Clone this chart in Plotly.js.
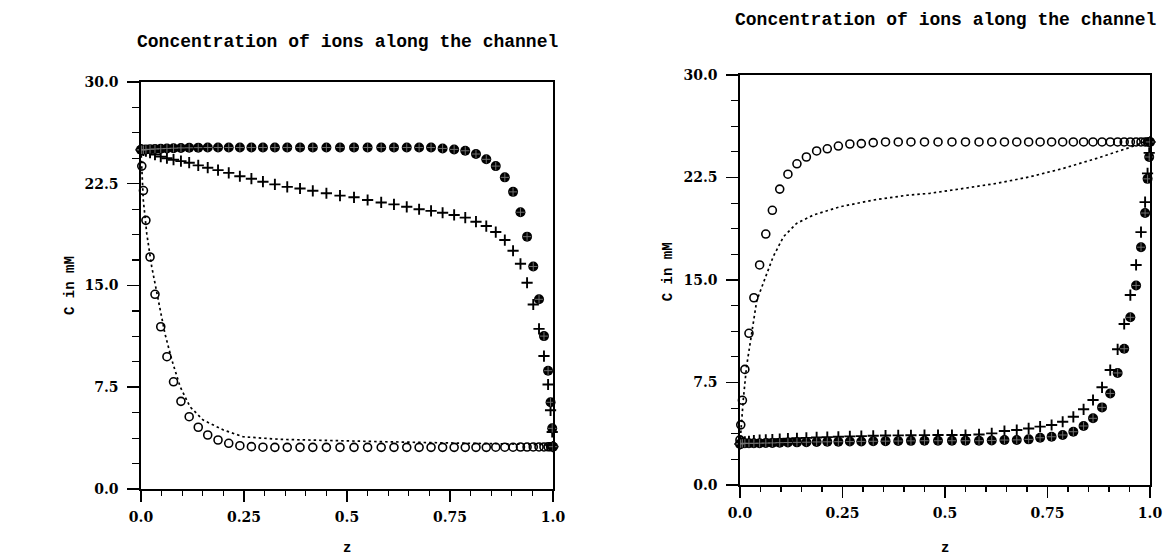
<!DOCTYPE html>
<html>
<head>
<meta charset="utf-8">
<script src="https://cdn.plot.ly/plotly-3.0.1.min.js"></script>
<style>html,body{margin:0;padding:0;background:#fff;}#chart{width:1166px;height:560px;}</style>
</head>
<body>
<div id="chart"></div>
<script>
// grid positions along the channel
var zGrid = [0, 0.002, 0.006, 0.012, 0.022, 0.034, 0.048, 0.063, 0.079, 0.097,
  0.117, 0.139, 0.162, 0.187, 0.213, 0.240, 0.268, 0.296, 0.325, 0.355,
  0.386, 0.417, 0.450, 0.483, 0.517, 0.550, 0.583, 0.614, 0.645, 0.675,
  0.704, 0.732, 0.760, 0.787, 0.813, 0.838, 0.861, 0.883, 0.903, 0.921,
  0.937, 0.952, 0.966, 0.978, 0.988, 0.994, 0.998, 1.000];

// LEFT panel
var leftOpen = [25.0, 23.8, 22.0, 19.8, 17.1, 14.35, 11.96, 9.75, 7.9, 6.46,
  5.33, 4.55, 3.98, 3.61, 3.37, 3.19, 3.12, 3.08, 3.07, 3.07,
  3.07, 3.07, 3.07, 3.07, 3.07, 3.07, 3.07, 3.07, 3.07, 3.07,
  3.07, 3.07, 3.07, 3.07, 3.07, 3.07, 3.08, 3.08, 3.08, 3.09,
  3.09, 3.1, 3.1, 3.1, 3.11, 3.11, 3.12, 3.12];
var leftFilled = [25.0, 25.0, 25.0, 25.02, 25.04, 25.06, 25.08, 25.1, 25.12, 25.14,
  25.15, 25.16, 25.17, 25.17, 25.17, 25.17, 25.17, 25.17, 25.17, 25.17,
  25.17, 25.17, 25.17, 25.17, 25.17, 25.17, 25.17, 25.17, 25.17, 25.17,
  25.17, 25.1, 25.03, 24.93, 24.69, 24.3, 23.8, 22.97, 21.9, 20.4,
  18.6, 16.4, 13.98, 11.27, 8.72, 6.39, 4.47, 3.12];
var leftPlus = [25.0, 25.0, 24.95, 24.9, 24.8, 24.65, 24.5, 24.38, 24.27, 24.17,
  24.05, 23.85, 23.68, 23.5, 23.3, 23.05, 22.87, 22.65, 22.45, 22.27,
  22.15, 21.98, 21.8, 21.62, 21.5, 21.3, 21.12, 20.98, 20.8, 20.62,
  20.5, 20.36, 20.2, 20.0, 19.7, 19.38, 18.94, 18.35, 17.56, 16.6,
  15.2, 13.6, 11.8, 9.8, 7.7, 5.8, 4.2, 3.12];
var leftLineZ = [0, 0.0056, 0.014, 0.026, 0.042, 0.058, 0.075, 0.095, 0.119, 0.151,
  0.2, 0.248, 0.337, 0.459, 0.58, 0.7, 0.8, 0.9, 0.97, 1.0];
var leftLineC = [25.0, 21.3, 18.84, 16.4, 13.93, 11.47, 9.5, 7.54, 6.06, 5.08,
  4.35, 3.85, 3.66, 3.56, 3.49, 3.42, 3.38, 3.33, 3.28, 3.2];

// RIGHT panel
var rightOpen = [3.3, 4.4, 6.2, 8.46, 11.1, 13.7, 16.1, 18.36, 20.1, 21.65,
  22.74, 23.5, 24.0, 24.44, 24.6, 24.8, 24.95, 24.98, 25.05, 25.1,
  25.1, 25.1, 25.1, 25.1, 25.1, 25.1, 25.1, 25.1, 25.1, 25.1,
  25.1, 25.1, 25.1, 25.1, 25.1, 25.1, 25.1, 25.1, 25.1, 25.1,
  25.1, 25.1, 25.1, 25.1, 25.1, 25.1, 25.1, 25.1];
var rightFilled = [3.0, 3.03, 3.05, 3.05, 3.05, 3.05, 3.06, 3.07, 3.08, 3.1,
  3.11, 3.12, 3.13, 3.15, 3.16, 3.17, 3.18, 3.19, 3.2, 3.21,
  3.22, 3.23, 3.24, 3.24, 3.24, 3.24, 3.24, 3.26, 3.29, 3.3,
  3.34, 3.46, 3.53, 3.66, 3.9, 4.32, 4.88, 5.68, 6.7, 8.2,
  9.97, 12.27, 14.6, 17.4, 19.9, 22.4, 24.0, 25.1];
var rightPlus = [3.0, 3.05, 3.1, 3.15, 3.2, 3.25, 3.28, 3.3, 3.33, 3.36,
  3.39, 3.42, 3.45, 3.48, 3.5, 3.53, 3.56, 3.58, 3.6, 3.62,
  3.63, 3.64, 3.65, 3.66, 3.66, 3.66, 3.7, 3.78, 3.95, 4.02,
  4.14, 4.27, 4.39, 4.63, 4.99, 5.54, 6.22, 7.15, 8.41, 9.93,
  11.78, 13.9, 16.1, 18.5, 20.7, 22.8, 24.3, 25.1];
var rightLineZ = [0, 0.003, 0.008, 0.016, 0.033, 0.041, 0.081, 0.106, 0.138, 0.179,
  0.244, 0.325, 0.407, 0.463, 0.545, 0.626, 0.707, 0.789, 0.870, 0.951, 0.984, 1.0];
var rightLineC = [3.0, 4.5, 6.2, 8.65, 12.07, 13.5, 16.7, 18.16, 19.14, 19.75,
  20.36, 20.85, 21.2, 21.34, 21.7, 22.07, 22.55, 23.17, 23.9, 24.7, 25.1, 25.2];

var xTickVals = [0, 0.25, 0.5, 0.75, 1.0];
var xTickText = ["0.0", "0.25", "0.5", "0.75", "1.0"];
var yTickVals = [0, 7.5, 15, 22.5, 30];
var yTickText = ["0.0", "7.5", "15.0", "22.5", "30.0"];
var titleText = "Concentration of ions along the channel";
var yTitleText = "C in mM";
var xTitleText = "z";

function panel(xa, ya, open, filled, plus, lz, lc) {
  return [
    {x: lz, y: lc, xaxis: xa, yaxis: ya, type: 'scatter', mode: 'lines',
     line: {color: '#000', width: 1.7, dash: '2.5px,3px'}, hoverinfo: 'skip', cliponaxis: false},
    {x: zGrid, y: open, xaxis: xa, yaxis: ya, type: 'scatter', mode: 'markers', cliponaxis: false,
     marker: {symbol: 'circle-open', size: 8, color: '#000', line: {color: '#000', width: 1.6}}},
    {x: zGrid, y: plus, xaxis: xa, yaxis: ya, type: 'scatter', mode: 'markers', cliponaxis: false,
     marker: {symbol: 'cross-thin-open', size: 8, color: '#000', line: {color: '#000', width: 1.9}}},
    {x: zGrid, y: filled, xaxis: xa, yaxis: ya, type: 'scatter', mode: 'markers', cliponaxis: false,
     marker: {symbol: 'circle', size: 10, color: '#000', line: {width: 0}}},
    {x: zGrid, y: filled, xaxis: xa, yaxis: ya, type: 'scatter', mode: 'markers', cliponaxis: false,
     marker: {symbol: 'cross-thin-open', size: 6, color: '#777', line: {color: '#777', width: 0.9}}}
  ];
}

var data = panel('x', 'y', leftOpen, leftFilled, leftPlus, leftLineZ, leftLineC)
  .concat(panel('x2', 'y2', rightOpen, rightFilled, rightPlus, rightLineZ, rightLineC));

var tickFont = {family: 'DejaVu Serif', size: 14, color: '#000', weight: 'bold'};
function xAxis(dom, anchor) {
  return {domain: dom, anchor: anchor, range: [0, 1], showgrid: false, zeroline: false,
    showline: true, mirror: true, linecolor: '#000', linewidth: 1.6,
    tickmode: 'array', tickvals: xTickVals, ticktext: xTickText,
    ticks: 'outside', ticklen: 11, tickwidth: 1.5, tickcolor: '#000',
    ticklabelstandoff: 4, tickfont: tickFont,
    minor: {tickmode: 'linear', tick0: 0, dtick: 0.05, ticks: 'outside', ticklen: 5, tickwidth: 1.2, tickcolor: '#000', showgrid: false}};
}
function yAxis(dom, anchor) {
  return {domain: dom, anchor: anchor, range: [0, 30], showgrid: false, zeroline: false,
    showline: true, mirror: true, linecolor: '#000', linewidth: 1.6,
    tickmode: 'array', tickvals: yTickVals, ticktext: yTickText,
    ticks: 'outside', ticklen: 12, tickwidth: 1.5, tickcolor: '#000',
    ticklabelstandoff: 6, tickfont: tickFont,
    minor: {tickmode: 'linear', tick0: 0, dtick: 1.875, ticks: 'outside', ticklen: 7, tickwidth: 1.2, tickcolor: '#000', showgrid: false}};
}

var titleFont = {family: 'Liberation Mono', size: 18, color: '#000', weight: 'bold'};
var labFont = {family: 'Liberation Mono', size: 14, color: '#000', weight: 'bold'};

var layout = {
  width: 1166, height: 560,
  margin: {l: 0, r: 0, t: 0, b: 0},
  paper_bgcolor: '#fff', plot_bgcolor: '#fff',
  showlegend: false,
  xaxis: xAxis([0.1209, 0.4743], 'y'),
  yaxis: yAxis([0.1268, 0.8536], 'x'),
  xaxis2: xAxis([0.6346, 0.9863], 'y2'),
  yaxis2: yAxis([0.1339, 0.8661], 'x2'),
  annotations: [
    {text: titleText, xref: 'paper', yref: 'paper', x: 0.2976, y: 0.925, showarrow: false, font: titleFont, xanchor: 'center', yanchor: 'middle'},
    {text: titleText, xref: 'paper', yref: 'paper', x: 0.8105, y: 0.964, showarrow: false, font: titleFont, xanchor: 'center', yanchor: 'middle'},
    {text: yTitleText, xref: 'paper', yref: 'paper', x: 0.0600, y: 0.491, textangle: -90, showarrow: false, font: labFont, xanchor: 'center', yanchor: 'middle'},
    {text: yTitleText, xref: 'paper', yref: 'paper', x: 0.5730, y: 0.514, textangle: -90, showarrow: false, font: labFont, xanchor: 'center', yanchor: 'middle'},
    {text: xTitleText, xref: 'paper', yref: 'paper', x: 0.2976, y: 0.0214, showarrow: false, font: labFont, xanchor: 'center', yanchor: 'middle'},
    {text: xTitleText, xref: 'paper', yref: 'paper', x: 0.8105, y: 0.0214, showarrow: false, font: labFont, xanchor: 'center', yanchor: 'middle'}
  ]
};

Plotly.newPlot('chart', data, layout, {staticPlot: true, displayModeBar: false});
</script>
</body>
</html>
